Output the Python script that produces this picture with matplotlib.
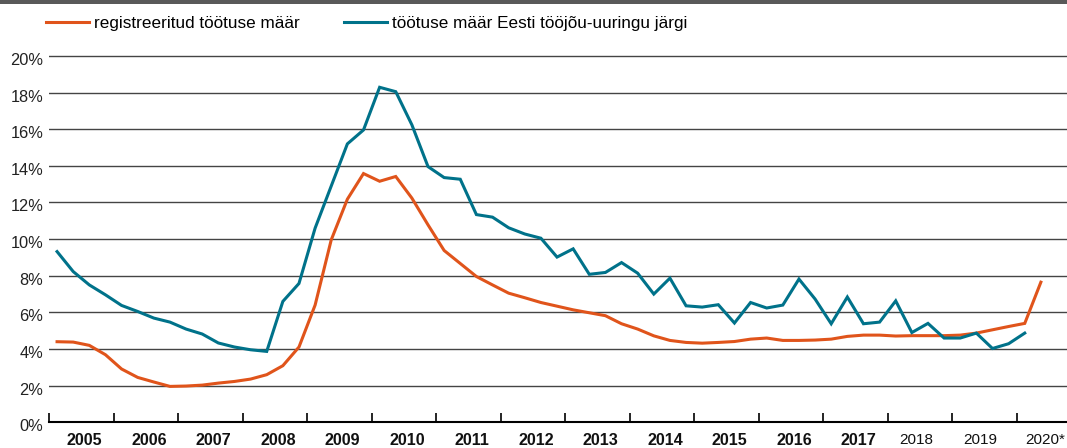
import matplotlib.pyplot as plt
import matplotlib.patches as patches
import matplotlib.transforms as mtransforms
import numpy as np

plt.rcParams['font.family'] = ['Liberation Sans', 'DejaVu Sans']

# quarterly data, 2005 Q1 ...
registered = [4.40, 4.38, 4.20, 3.69, 2.91, 2.45, 2.20, 1.96,
              1.98, 2.03, 2.14, 2.23, 2.36, 2.60, 3.09, 4.11,
              6.40, 9.96, 12.18, 13.58, 13.16, 13.42, 12.24, 10.78,
              9.38, 8.67, 7.96, 7.50, 7.05, 6.80, 6.54, 6.34,
              6.14, 5.98, 5.82, 5.38, 5.09, 4.72, 4.47, 4.36,
              4.32, 4.36, 4.41, 4.54, 4.60, 4.47, 4.47, 4.49,
              4.54, 4.69, 4.76, 4.76, 4.71, 4.73, 4.73, 4.73,
              4.76, 4.87, 5.05, 5.23, 5.40, 7.65]

survey = [9.32, 8.23, 7.50, 6.96, 6.38, 6.05, 5.69, 5.47,
          5.09, 4.82, 4.33, 4.11, 3.96, 3.87, 6.60, 7.58,
          10.60, 12.90, 15.20, 15.96, 18.29, 18.05, 16.24, 13.96,
          13.36, 13.27, 11.34, 11.20, 10.62, 10.28, 10.05, 9.02,
          9.47, 8.08, 8.18, 8.72, 8.14, 7.00, 7.87, 6.36,
          6.29, 6.42, 5.42, 6.54, 6.24, 6.40, 7.82, 6.73,
          5.38, 6.84, 5.38, 5.47, 6.63, 4.90, 5.40, 4.60,
          4.60, 4.87, 4.03, 4.29, 4.87]

years = list(range(2005, 2021))
year_labels = [str(y) for y in years[:-1]] + ['2020*']
bold_years = years[:13]

ORANGE = '#E0541B'
TEAL = '#00728A'


def quarter_x(n):
	return 2005 + (np.arange(n) + 0.5) / 4.0


fig = plt.figure(figsize=(10.67, 4.48), dpi=100)
ax = fig.add_axes([49/1067, 1-422.3/448, 1-49/1067, (422.3-52.3)/448])

# dark band at the very top
fig.patches.append(patches.Rectangle((0, 1-4/448), 1, 4/448, transform=fig.transFigure,
                                     facecolor='#595959', edgecolor='none'))

for v in range(2, 21, 2):
	ax.axhline(v, color='#444444', lw=1.0, zorder=1)

l1, = ax.plot(quarter_x(len(registered)), registered, color=ORANGE, lw=2.2,
              solid_joinstyle='miter', zorder=3, label='registreeritud töötuse määr')
l2, = ax.plot(quarter_x(len(survey)), survey, color=TEAL, lw=2.2,
              solid_joinstyle='miter', zorder=3, label='töötuse määr Eesti tööjõu-uuringu järgi')

ax.set_xlim(2005, 2020.78)
ax.set_ylim(0, 20.2)

for s in ['top', 'right', 'left']:
	ax.spines[s].set_visible(False)
ax.spines['bottom'].set_linewidth(1.5)
ax.spines['bottom'].set_color('black')

ax.set_yticks(range(0, 21, 2))
ax.set_yticklabels(['%d%%' % v for v in range(0, 21, 2)], fontsize=11.8, color='#222222')
ax.tick_params(axis='y', length=0, pad=4)
shift = mtransforms.ScaledTranslation(0, -3/100, fig.dpi_scale_trans)
for t in ax.get_yticklabels():
	t.set_transform(t.get_transform() + shift)

ax.set_xticks(years)
ax.set_xticklabels([])
ax.tick_params(axis='x', which='major', direction='in', length=6.5, width=1.2, color='black')
label_pos = [y + (0.55 if y in bold_years else 0.44) for y in years]
ax.set_xticks(label_pos, minor=True)
ax.set_xticklabels(year_labels, minor=True)
ax.tick_params(axis='x', which='minor', length=0, pad=8)
for t, y in zip(ax.get_xticklabels(minor=True), years):
	if y in bold_years:
		t.set_fontweight('bold')
		t.set_fontsize(11.6)
	else:
		t.set_fontsize(11)
	t.set_color('#111111')

fig.legend(handles=[l1, l2], loc='center left', bbox_to_anchor=(45.7/1067, 1-23.3/448),
           ncol=2, frameon=False, fontsize=12.3, handlelength=2.55, handletextpad=0.27,
           columnspacing=2.57, borderaxespad=0, borderpad=0)

fig.savefig('out.png', dpi=100)
